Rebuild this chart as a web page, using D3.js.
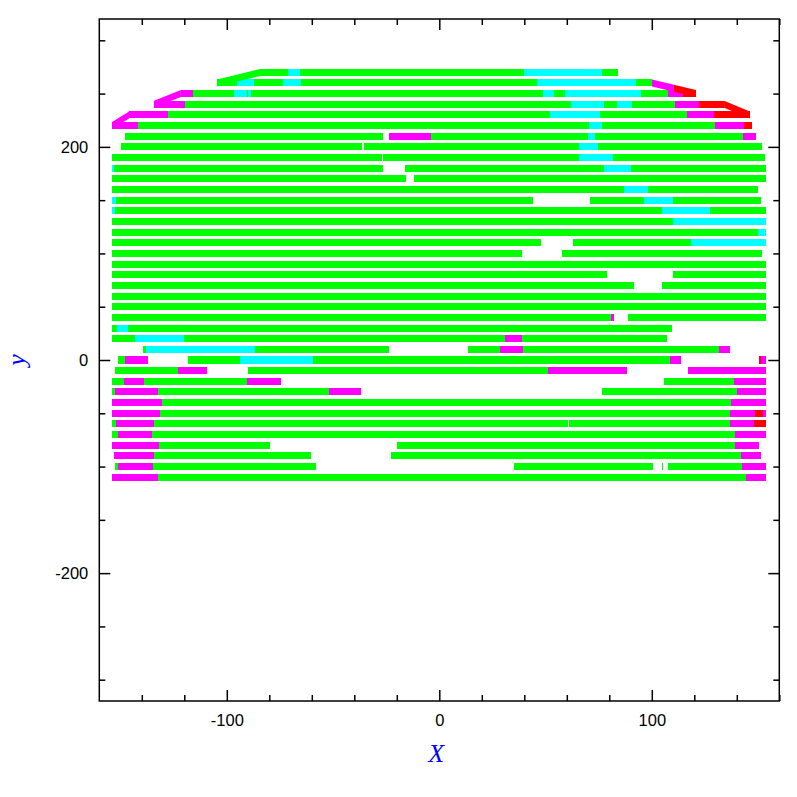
<!DOCTYPE html>
<html>
<head>
<meta charset="utf-8">
<script src="https://cdn.jsdelivr.net/npm/d3@7"></script>
<style>
html,body{margin:0;padding:0;background:#fff;}
svg{display:block;}
</style>
</head>
<body>
<svg id="chart" width="797" height="797"></svg>
<script>
// ---- data: scan rows, segments [rowY, xStart, xEnd] by status ----
const xTicksMajor = [-100, 0, 100];
const yTicksMajor = [-200, 0, 200];

const greenSegs = [
[270,-83.9,-71.2],[270,-65.6,39.8],[270,76.6,84.1],
[260,-104.6,-95.2],[260,-87.2,-73.6],[260,-65.1,46.0],[260,92.6,100.1],
[250,-115.9,-96.6],[250,-90.5,-90.0],[250,-88.6,48.8],[250,54.0,59.1],[250,94.9,107.6],
[240,-119.7,61.9],[240,77.5,83.6],[240,90.7,110.9],
[230,-127.7,52.1],[230,75.6,116.6],
[220,-141.8,70.4],[220,76.6,129.7],
[210,-147.9,-26.4],[210,-3.9,69.9],[210,73.3,142.9],
[200,-149.8,-36.4],[200,-35.5,65.7],[200,74.7,151.9],
[190,-154,-27.2],[190,-26.4,65.7],[190,81.7,153.3],
[180,-153.1,-26.4],[180,-16.1,77.5],[180,90.2,153.7],
[170,-154,-15.7],[170,-11.9,153.7],
[160,-154,86.9],[160,98.2,150.0],
[150,-152.1,44.1],[150,70.9,96.3],[150,110.0,151.4],
[140,-152.6,104.8],[140,127.4,153.7],
[130,-154,110.0],
[120,-154,150.0],
[110,-154,47.9],[110,62.9,118.4],
[100,-154,38.9],[100,57.7,151.9],
[90,-154,153.7],
[80,-154,78.9],[80,110.0,153.7],
[70,-154,91.6],[70,104.8,153.7],
[60,-154,153.7],
[50,-154,153.7],
[40,-154,80.8],[40,88.8,153.7],
[30,-154,-151.7],[30,-146.5,109.5],
[20,-154,-143.2],[20,-120.2,30.9],[20,38.9,107.2],
[10,-139.4,-138.0],[10,-86.7,-23.7],[10,13.5,28.6],[10,39.4,131.6],
[0,-151.2,-147.9],[0,-118.3,-93.8],[0,-59.4,108.6],
[-10,-152.6,-123.0],[-10,-90.0,51.2],
[-20,-154,-148.4],[-20,-138.9,-90.5],[-20,105.8,138.7],
[-30,-154,-152.6],[-30,-132.4,-51.9],[-30,76.6,140.1],
[-40,-130.5,137.3],
[-50,-131.4,136.8],
[-60,-154,-152.1],[-60,-134.3,60.5],[-60,61.0,136.8],
[-70,-154,-151.2],[-70,-135.2,139.2],
[-80,-131.9,-79.7],[-80,-19.9,139.2],
[-90,-134.3,-60.4],[-90,-22.7,142.0],
[-100,-152.6,-151.2],[-100,-134.7,-58.0],[-100,35.2,100.6],[-100,104.8,105.3],[-100,107.6,142.4],
[-110,-132.4,144.3]
];

const cyanSegs = [
[270,-71.2,-65.6],[270,39.8,76.6],
[260,-95.2,-87.2],[260,-73.6,-65.1],[260,46.0,92.6],
[250,-96.6,-90.5],[250,-90.0,-88.6],[250,48.8,54.0],[250,59.1,94.9],
[240,61.9,77.5],[240,83.6,90.7],
[230,52.1,75.6],
[220,70.4,76.6],
[210,69.9,73.3],
[200,65.7,74.7],
[190,65.7,81.7],
[180,-154,-153.1],[180,77.5,90.2],
[160,86.9,98.2],
[150,-154,-152.1],[150,96.3,110.0],
[140,-154,-152.6],[140,104.8,127.4],
[130,110.0,153.7],
[120,150.0,153.7],
[110,118.4,153.7],
[30,-151.7,-146.5],
[20,-143.2,-120.2],
[10,-138.0,-86.7],
[0,-93.8,-59.4]
];

const magentaSegs = [
[250,-121.6,-115.9],[250,107.6,114.7],
[240,-134.3,-119.7],[240,110.9,122.2],
[230,-146.0,-127.7],[230,116.6,129.3],
[220,-154,-141.8],[220,129.7,143.4],
[210,-23.7,-3.9],[210,142.9,149.0],
[40,80.8,82.2],
[20,30.9,38.9],
[10,28.6,39.4],[10,131.6,136.8],
[0,-147.9,-137.1],[0,108.6,113.7],[0,151.4,153.7],
[-10,-123.0,-109.3],[-10,51.2,88.3],[-10,117.0,153.7],
[-20,-148.4,-138.9],[-20,-90.5,-74.5],[-20,138.7,153.7],
[-30,-152.6,-132.4],[-30,-51.9,-36.8],[-30,140.1,153.7],
[-40,-154,-130.5],[-40,137.3,153.7],
[-50,-154,-131.4],[-50,136.8,148.6],[-50,152.3,153.7],
[-60,-152.1,-134.3],[-60,136.8,148.1],
[-70,-151.2,-135.2],[-70,139.2,153.7],
[-80,-154,-131.9],[-80,139.2,150.4],
[-90,-153.1,-134.3],[-90,142.0,151.4],
[-100,-151.2,-134.7],[-100,142.4,153.7],
[-110,-154,-132.4],[-110,144.3,153.7]
];

const redSegs = [
[250,114.7,120.8],
[240,122.2,134.0],
[230,129.3,146.2],
[220,143.4,147.1],
[0,150.4,151.4],
[-50,148.6,152.3],
[-60,148.1,153.7]
];

// row-to-row transitions: [yFrom, xFrom, yTo, xTo, status]
const ramps = [
[260,-104.6,270,-83.9,"green"],
[260,100.1,255,110.4,"magenta"],
[255,110.4,250,120.8,"red"],
[240,-134.3,250,-121.6,"magenta"],
[240,134.0,230,146.2,"red"],
[220,-154.0,230,-146.0,"magenta"]
];

// ---- drawing ----
const svg = d3.select("#chart");
const x = d3.scaleLinear().domain([-160,160]).range([99.3,779.3]);
const y = d3.scaleLinear().domain([-320,320]).range([701,19]);
const color = d3.scaleOrdinal()
  .domain(["green","cyan","magenta","red"])
  .range(["#00ff00","#00ffff","#ff00ff","#ff0000"]);
const half = 3.3; // half bar thickness in y units

const segs = [].concat(
  greenSegs.map(d => ({row:d[0], x0:d[1], x1:d[2], s:"green"})),
  cyanSegs.map(d => ({row:d[0], x0:d[1], x1:d[2], s:"cyan"})),
  magentaSegs.map(d => ({row:d[0], x0:d[1], x1:d[2], s:"magenta"})),
  redSegs.map(d => ({row:d[0], x0:d[1], x1:d[2], s:"red"}))
);

const plot = svg.append("g");
plot.selectAll("rect.seg").data(segs).join("rect")
  .attr("class","seg")
  .attr("x", d => x(d.x0))
  .attr("width", d => Math.max(0.5, x(d.x1) - x(d.x0)))
  .attr("y", d => y(d.row + half))
  .attr("height", d => y(d.row - half) - y(d.row + half))
  .attr("fill", d => color(d.s))
  .attr("shape-rendering","crispEdges");

plot.selectAll("path.ramp").data(ramps).join("path")
  .attr("class","ramp")
  .attr("d", d => {
    const [ya, xa, yb, xb] = d;
    return "M" + [x(xa), y(ya + half)] + "L" + [x(xb), y(yb + half)] +
           "L" + [x(xb), y(yb - half)] + "L" + [x(xa), y(ya - half)] + "Z";
  })
  .attr("fill", d => color(d[4]));

// ---- axes ----
const font = "'Liberation Sans', Arial, sans-serif";
const xMinor = d3.range(-140, 161, 20).filter(v => v % 100 !== 0);
const yMinor = d3.range(-300, 301, 50).filter(v => v % 200 !== 0);
const xMajorAll = [-100, 0, 100];
const yMajorAll = [-200, 0, 200];
const fmt = d => String(d);

function styleAxis(g){
  g.select(".domain").remove();
  g.selectAll("line").attr("stroke","#000").attr("stroke-width",1.5);
  g.selectAll("text").attr("font-family",font).attr("font-size",16.5).attr("fill","#000");
}

// bottom
svg.append("g").attr("transform",`translate(0,${y(-320)})`)
  .call(d3.axisBottom(x).tickValues(xMinor).tickSize(-6).tickFormat(""))
  .call(styleAxis);
svg.append("g").attr("transform",`translate(0,${y(-320)})`)
  .call(d3.axisBottom(x).tickValues(xTicksMajor).tickSize(-11).tickPadding(13).tickFormat(fmt))
  .call(styleAxis);
// top
svg.append("g").attr("transform",`translate(0,${y(320)})`)
  .call(d3.axisTop(x).tickValues(xMinor).tickSize(-6).tickFormat(""))
  .call(styleAxis);
svg.append("g").attr("transform",`translate(0,${y(320)})`)
  .call(d3.axisTop(x).tickValues(xMajorAll).tickSize(-11).tickFormat(""))
  .call(styleAxis);
// left
svg.append("g").attr("transform",`translate(${x(-160)},0)`)
  .call(d3.axisLeft(y).tickValues(yMinor).tickSize(-6).tickFormat(""))
  .call(styleAxis);
svg.append("g").attr("transform",`translate(${x(-160)},0)`)
  .call(d3.axisLeft(y).tickValues(yTicksMajor).tickSize(-11).tickPadding(11).tickFormat(fmt))
  .call(styleAxis);
// right
svg.append("g").attr("transform",`translate(${x(160)},0)`)
  .call(d3.axisRight(y).tickValues(yMinor).tickSize(-6).tickFormat(""))
  .call(styleAxis);
svg.append("g").attr("transform",`translate(${x(160)},0)`)
  .call(d3.axisRight(y).tickValues(yMajorAll).tickSize(-11).tickFormat(""))
  .call(styleAxis);

// frame
svg.append("rect")
  .attr("x", x(-160)).attr("y", y(320))
  .attr("width", x(160) - x(-160)).attr("height", y(-320) - y(320))
  .attr("fill","none").attr("stroke","#000").attr("stroke-width",1.5);

// axis titles
svg.append("text")
  .attr("x", x(0) - 3).attr("y", 762)
  .attr("text-anchor","middle")
  .attr("font-family","'Liberation Serif','DejaVu Serif',serif")
  .attr("font-style","italic")
  .attr("font-size",26)
  .attr("fill","#0000ff")
  .text("X");
svg.append("text")
  .attr("transform",`translate(25,${y(0)}) rotate(-90)`)
  .attr("text-anchor","middle")
  .attr("font-family","'Liberation Serif','DejaVu Serif',serif")
  .attr("font-style","italic")
  .attr("font-size",26)
  .attr("fill","#0000ff")
  .text("y");
</script>
</body>
</html>
